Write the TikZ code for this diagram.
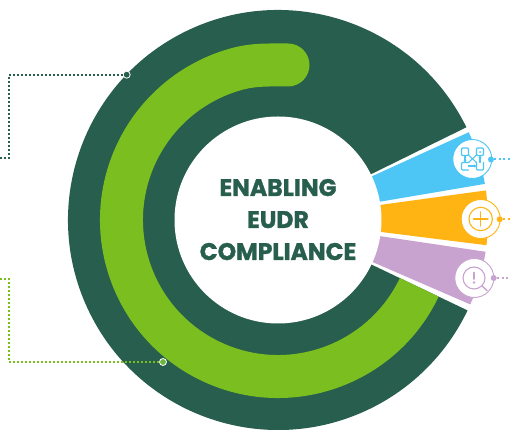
\documentclass[tikz,border=0pt]{standalone}
\usepackage{fontspec}
\setmainfont{Poppins}[BoldFont={Poppins Bold},BoldFeatures={FakeBold=1.2,FakeStretch=0.98}]
\usetikzlibrary{arrows.meta}
\definecolor{dk}{HTML}{285E4D}
\definecolor{gr}{HTML}{7ABF1F}
\definecolor{bl}{HTML}{4EC6F5}
\definecolor{ye}{HTML}{FFB414}
\definecolor{pu}{HTML}{C9A3CF}
\definecolor{grdot}{HTML}{6DB33F}
\tikzset{
  dotline/.style={line width=2pt,dash pattern=on 2pt off 2pt},
  sideline/.style={line width=2pt,dash pattern=on 2pt off 2.6pt},
  enddot/.style={circle,inner sep=0pt,minimum size=7pt,draw=white,line width=.8pt},
  sidedot/.style={circle,inner sep=0pt,minimum size=6pt},
  badge/.style={circle,inner sep=0pt,minimum size=39pt,fill=white,line width=.9pt},
  icoline/.style={line width=1.1pt,line cap=round,line join=round},
  title/.style={font=\bfseries\fontsize{24}{24}\selectfont,text=dk,inner sep=0pt,anchor=base}
}
\begin{document}
\begin{tikzpicture}[x=1pt,y=1pt]
\useasboundingbox (0,0) rectangle (511,430);
\fill[white] (0,0) rectangle (511,430);
\begin{scope}[shift={(278,210)}]
  % dark sector
  \fill[dk] (0,0) -- (26.2:210) arc (26.2:334.5:210) -- cycle;
  % green band
  \fill[gr] (105:178) .. controls (-26.7,177.2) and (-10,176.5) .. (10,176.5)
     arc (90:-90:21.5)
     .. controls (-5,133.5) and (-20.4,134.3) .. (105:135)
     arc (105:334.5:135) -- (334.5:178) arc (334.5:105:178) -- cycle;
  % wedges
  \fill[bl] (0,1) -- (24.7:210) arc (24.7:9.9:210) -- cycle;
  \fill[ye] (0,1) -- (8.1:210) arc (8.1:-6.9:210) -- cycle;
  \fill[pu] (0,-1) -- (-8.7:210) arc (-8.7:-23.7:210) -- cycle;
  % hub
  \fill[white] (0,0) circle (103.5);
\end{scope}
% title
\node[title] (t1) at (278,234) {ENABLING};
\node[title] (t2) at (278,202) {EUDR};
\node[title] (t3) at (278,170) {COMPLIANCE};
% badges
\node[badge,draw=bl] (bA) at (472.3,271) {};
\node[badge,draw=ye] (bB) at (480.7,211) {};
\node[badge,draw=pu] (bC) at (474.3,152) {};
% side dots
\node[sidedot,fill=bl] (dA) at (491,270.5) {};
\node[sidedot,fill=ye] (dB) at (499.7,210.7) {};
\node[sidedot,fill=pu] (dC) at (493.7,152) {};
\coordinate (eA) at (511,270.5);
\coordinate (eB) at (511,210.7);
\coordinate (eC) at (511,152);
\draw[bl,sideline] (dA) -- (eA);
\draw[ye,sideline] (dB) -- (eB);
\draw[pu,sideline] (dC) -- (eC);
% left leaders
\coordinate (c1a) at (8.7,355.3);
\coordinate (c1b) at (8.7,272);
\coordinate (c1c) at (0,272);
\coordinate (c2a) at (8.7,68);
\coordinate (c2b) at (8.7,150.7);
\coordinate (c2c) at (0,150.7);
\node[enddot,fill=dk] (p1) at (126.7,355.3) {};
\node[enddot,fill=grdot] (p2) at (163,68) {};
\draw[dk,dotline] (p1) -- (c1a) -- (c1b) -- (c1c);
\draw[gr,dotline] (p2) -- (c2a) -- (c2b) -- (c2c);
% icon A: flow chart
\begin{scope}[bl,icoline]
  \draw[rounded corners=1pt] (461.5,274.5) rectangle (468.5,282);
  \draw[rounded corners=1pt] (476.5,274.5) rectangle (483.5,282);
  \draw[rounded corners=1pt] (468.5,267.5) -- (461.5,267.5) -- (461.5,260) -- (468.5,260);
  \draw[rounded corners=1pt] (476.5,267.5) -- (476.5,260) -- (483.5,260) -- (483.5,267.5);
  \draw[-{Stealth[length=2.5pt,width=3pt]}] (465,274.5) -- (465,267.5);
  \draw[-{Stealth[length=2.5pt,width=3pt]}] (480,267.5) -- (480,274.5);
  \draw[-{Stealth[length=2.5pt,width=3pt]}] (468.5,264) -- (476.5,264);
  \draw (468.5,275) -- (476.5,267.5);
  \draw (468.5,267.5) -- (476.5,275);
  \fill (480,278) circle (1);
\end{scope}
% icon B: plus
\begin{scope}[ye,icoline]
  \draw (480.7,211) circle (11.7);
  \draw (473.5,211) -- (488,211);
  \draw (480.7,203.8) -- (480.7,218.2);
\end{scope}
% icon C: search with exclamation mark
\begin{scope}[pu,icoline]
  \draw (474,152) circle (11);
  \draw[line width=1.4pt] (482,144) -- (487,139.5);
  \draw[line width=1.8pt] (474,157.5) -- (474,151);
  \fill (474,147.5) circle (1.3);
\end{scope}
\end{tikzpicture}
\end{document}
